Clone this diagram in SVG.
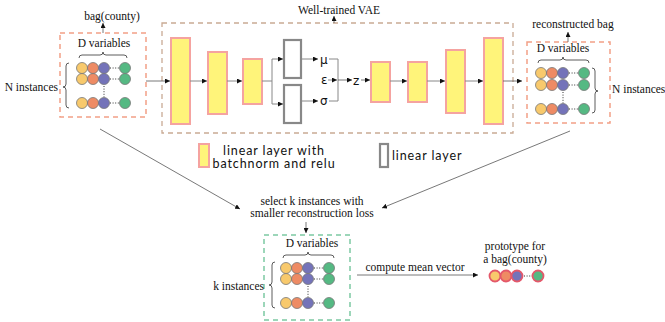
<svg xmlns="http://www.w3.org/2000/svg" width="665" height="322" viewBox="0 0 665 322">
  <defs>
    <marker id="arr" viewBox="0 0 6 6" refX="6" refY="3" markerWidth="5" markerHeight="5" orient="auto" markerUnits="userSpaceOnUse">
      <path d="M0,0 L6,3 L0,6 z" fill="#111"/>
    </marker>
    <style>
      .serif { font-family: "Liberation Serif", "Times New Roman", serif; font-size: 11.5px; fill: #111; }
      .sans { font-family: "Lato", "Open Sans", sans-serif; font-size: 12.5px; letter-spacing: 0.9px; fill: #111; }
      .greek { font-family: "DejaVu Sans", sans-serif; font-size: 12px; fill: #111; }
      .bag { fill: none; stroke: #F2A086; stroke-width: 1.5; stroke-dasharray: 5 4; }
      .vae { fill: none; stroke: #C9AA94; stroke-width: 1.3; stroke-dasharray: 5 4; }
      .sel { fill: none; stroke: #7CC9A2; stroke-width: 1.5; stroke-dasharray: 5 4; }
      .bn { fill: #FFF47A; stroke: #F5A3A0; stroke-width: 2; }
      .lin { fill: #fff; stroke: #888; stroke-width: 2.2; }
      .wire { fill: none; stroke: #888; stroke-width: 1; }
      .link { fill: none; stroke: #555; stroke-width: 0.8; }
      .brace { fill: none; stroke: #333; stroke-width: 0.8; }
      .dots { fill: none; stroke: #333; stroke-width: 1; stroke-dasharray: 1 1.6; }
      .c1 { fill: #F8C96C; stroke: #777; stroke-width: 0.8; }
      .c2 { fill: #EE8B64; stroke: #777; stroke-width: 0.8; }
      .c3 { fill: #7473B9; stroke: #777; stroke-width: 0.8; }
      .c4 { fill: #55B983; stroke: #777; stroke-width: 0.8; }
      .p1 { fill: #F8C96C; stroke: #E4586A; stroke-width: 1.8; }
      .p2 { fill: #EE8B64; stroke: #E4586A; stroke-width: 1.8; }
      .p3 { fill: #7473B9; stroke: #E4586A; stroke-width: 1.8; }
      .p4 { fill: #55B983; stroke: #E4586A; stroke-width: 1.8; }
    </style>
    <!-- one row of D variables: yellow, orange, purple, dots, green -->
    <g id="row">
      <circle class="c1" cx="0" cy="0" r="5.5"/>
      <circle class="c2" cx="11" cy="0" r="5.5"/>
      <circle class="c3" cx="22" cy="0" r="5.5"/>
      <line class="dots" x1="28" y1="0" x2="37" y2="0"/>
      <circle class="c4" cx="43" cy="0" r="5.5"/>
    </g>
  </defs>

  <rect width="665" height="322" fill="#fff"/>

  <!-- input bag -->
  <g id="bag-in">
    <rect class="bag" x="60" y="33" width="86" height="84"/>
    <text class="serif" x="112" y="20" text-anchor="middle">bag(county)</text>
    <line class="link" x1="103" y1="33" x2="103" y2="23" marker-end="url(#arr)"/>
    <text class="serif" x="104" y="47" text-anchor="middle">D variables</text>
    <path class="brace" d="M79,58 Q79,55 82,55 L100,55 Q103,55 103,52 Q103,55 106,55 L124,55 Q127,55 127,58"/>
    <use href="#row" x="82" y="68"/>
    <use href="#row" x="82" y="79"/>
    <use href="#row" x="82" y="103"/>
    <line class="dots" x1="104" y1="86" x2="104" y2="97"/>
    <path class="brace" d="M69,63 Q66,63 66,66 L66,84 Q66,87 63,87 Q66,87 66,90 L66,105 Q66,108 69,108"/>
    <text class="serif" x="58" y="91" text-anchor="end">N instances</text>
  </g>

  <!-- VAE -->
  <g id="vae">
    <rect class="vae" x="162" y="23" width="351" height="110"/>
    <text class="serif" x="339" y="14" text-anchor="middle">Well-trained VAE</text>
    <line class="link" x1="334" y1="23" x2="334" y2="16" marker-end="url(#arr)"/>
    <g id="encoder">
      <rect class="bn" x="171" y="38" width="19" height="86"/>
      <rect class="bn" x="208" y="52" width="19" height="62"/>
      <rect class="bn" x="243" y="59" width="19" height="45"/>
      <rect class="lin" x="284" y="40" width="17" height="38"/>
      <rect class="lin" x="284" y="85" width="17" height="38"/>
    </g>
    <text class="greek" x="320" y="64">μ</text>
    <text class="greek" x="321" y="84">ε</text>
    <text class="greek" x="320" y="105">σ</text>
    <text class="greek" x="353" y="85">z</text>
    <g id="decoder">
      <rect class="bn" x="371" y="62" width="19" height="40"/>
      <rect class="bn" x="408" y="62" width="19" height="40"/>
      <rect class="bn" x="446" y="50" width="19" height="63"/>
      <rect class="bn" x="484" y="38" width="19" height="86"/>
    </g>
  </g>

  <!-- reconstructed bag -->
  <g id="bag-out">
    <rect class="bag" x="527" y="42" width="83" height="81"/>
    <text class="serif" x="573" y="28" text-anchor="middle">reconstructed bag</text>
    <line class="link" x1="568" y1="42" x2="568" y2="32" marker-end="url(#arr)"/>
    <text class="serif" x="563" y="52" text-anchor="middle">D variables</text>
    <path class="brace" d="M538,63 Q538,60 541,60 L560,60 Q563,60 563,57 Q563,60 566,60 L586,60 Q589,60 589,63"/>
    <use href="#row" x="541" y="73"/>
    <use href="#row" x="541" y="85"/>
    <use href="#row" x="541" y="109"/>
    <line class="dots" x1="563" y1="92" x2="563" y2="103"/>
    <path class="brace" d="M592,68 Q595,68 595,71 L595,88 Q595,91 598,91 Q595,91 595,94 L595,110 Q595,113 592,113"/>
    <text class="serif" x="612" y="93">N instances</text>
  </g>

  <!-- legend -->
  <g id="legend">
    <rect class="bn" x="199" y="144" width="10" height="23"/>
    <text class="sans" text-anchor="middle"><tspan x="274" y="154.5">linear layer with</tspan><tspan x="274" y="167.5">batchnorm and relu</tspan></text>
    <rect class="lin" x="380" y="144" width="8" height="23"/>
    <text class="sans" x="392" y="160">linear layer</text>
  </g>

  <!-- selection step -->
  <g id="select">
    <text class="serif" text-anchor="middle"><tspan x="312" y="205">select k instances with</tspan><tspan x="312" y="217">smaller reconstruction loss</tspan></text>
  </g>

  <!-- selected bag -->
  <g id="bag-k">
    <rect class="sel" x="264" y="235" width="86" height="85"/>
    <text class="serif" x="312" y="247" text-anchor="middle">D variables</text>
    <path class="brace" d="M283,258 Q283,255 286,255 L305,255 Q308,255 308,252 Q308,255 311,255 L331,255 Q334,255 334,258"/>
    <use href="#row" x="286" y="268"/>
    <use href="#row" x="286" y="279"/>
    <use href="#row" x="286" y="303"/>
    <line class="dots" x1="308" y1="286" x2="308" y2="297"/>
    <path class="brace" d="M275,262 Q272,262 272,265 L272,282 Q272,285 269,285 Q272,285 272,288 L272,305 Q272,308 275,308"/>
    <text class="serif" x="264" y="290" text-anchor="end">k instances</text>
  </g>

  <!-- prototype -->
  <g id="prototype">
    <text class="serif" text-anchor="middle"><tspan x="515" y="250">prototype for</tspan><tspan x="515" y="263">a bag(county)</tspan></text>
    <circle class="p1" cx="495" cy="276" r="5.5"/>
    <circle class="p2" cx="506" cy="276" r="5.5"/>
    <circle class="p3" cx="517" cy="276" r="5.5"/>
    <line class="dots" x1="524" y1="276" x2="532" y2="276"/>
    <circle class="p4" cx="538" cy="276" r="5.5"/>
  </g>

  <!-- connectors -->
  <g id="connectors">
    <line class="link" x1="146" y1="81" x2="170" y2="81" marker-end="url(#arr)"/>
    <line class="wire" x1="190" y1="81" x2="207" y2="81" marker-end="url(#arr)"/>
    <line class="wire" x1="227" y1="81" x2="242" y2="81" marker-end="url(#arr)"/>
    <path class="wire" d="M262,81 H272 M272,59 V104"/>
    <line class="wire" x1="272" y1="59" x2="283" y2="59" marker-end="url(#arr)"/>
    <line class="wire" x1="272" y1="104" x2="283" y2="104" marker-end="url(#arr)"/>
    <line class="wire" x1="301" y1="59" x2="318" y2="59" marker-end="url(#arr)"/>
    <line class="wire" x1="301" y1="101" x2="318" y2="101" marker-end="url(#arr)"/>
    <path class="wire" d="M329,59 H338 V101 H329"/>
    <line class="wire" x1="328" y1="80" x2="337" y2="80" marker-end="url(#arr)"/>
    <line class="link" x1="338" y1="80" x2="352" y2="80" marker-end="url(#arr)"/>
    <line class="link" x1="361" y1="80" x2="370" y2="80" marker-end="url(#arr)"/>
    <line class="wire" x1="390" y1="81" x2="407" y2="81" marker-end="url(#arr)"/>
    <line class="wire" x1="427" y1="81" x2="445" y2="81" marker-end="url(#arr)"/>
    <line class="wire" x1="465" y1="81" x2="483" y2="81" marker-end="url(#arr)"/>
    <line class="link" x1="503" y1="81" x2="522" y2="81" marker-end="url(#arr)"/>
    <line class="link" x1="100" y1="129" x2="240" y2="209" marker-end="url(#arr)"/>
    <line class="link" x1="570" y1="131" x2="382" y2="208" marker-end="url(#arr)"/>
    <line class="link" x1="306" y1="222" x2="306" y2="233" marker-end="url(#arr)"/>
    <line class="link" x1="357" y1="275" x2="478" y2="275" marker-end="url(#arr)"/>
    <text class="serif" x="415" y="271" text-anchor="middle">compute mean vector</text>
  </g>
</svg>
